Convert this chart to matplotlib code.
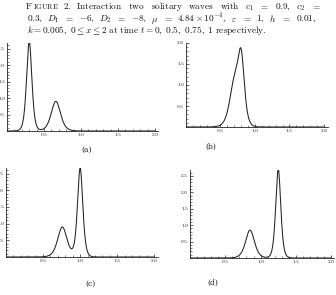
import numpy as np
import matplotlib
matplotlib.use("Agg")
import matplotlib.pyplot as plt
from matplotlib.ticker import MultipleLocator, FixedLocator

plt.rcParams['mathtext.fontset'] = 'cm'
plt.rcParams['font.family'] = ['DejaVu Serif']

W, H = 336, 295

# ---- data: solitary-wave peaks per panel ----
panel_labels = ["(a)", "(b)", "(c)", "(d)"]
peak_centers = [[0.30, 0.66], [0.80, 0.70], [1.00, 0.76], [1.25, 0.85]]
peak_heights = [[2.70, 0.90], [1.50, 1.00], [2.65, 0.90], [2.70, 0.85]]
peak_k       = [[21.0, 12.0], [16.0, 11.0], [21.0, 12.0], [21.0, 12.0]]
y_tops       = [2.67, 2.0, 2.67, 2.68]
x_ticks      = [0.5, 1.0, 1.5, 2.0]
y_ticks      = [[0.5, 1.0, 1.5, 2.0, 2.5], [0.5, 1.0, 1.5, 2.0],
                [0.5, 1.0, 1.5, 2.0, 2.5], [0.5, 1.0, 1.5, 2.0, 2.5]]

# pixel boxes (left=x at 0, right, bottom=baseline, top)
boxes = [(7, 158, 131, 43), (186, 328, 127, 43), (6, 158, 257, 168), (190, 334, 258, 170)]
x_max = [2.04, 2.06, 2.05, 2.04]
label_pos = [(87, 150), (211, 147), (90, 284), (213, 283)]

fig = plt.figure(figsize=(W / 100, H / 100), dpi=100)

x = np.linspace(0, 2, 1601)
for i in range(4):
    l, r, b, t = boxes[i]
    ax = fig.add_axes([l / W, 1 - b / H, (r - l) / W, (b - t) / H])
    u = np.zeros_like(x)
    for c, a, k in zip(peak_centers[i], peak_heights[i], peak_k[i]):
        u += a / np.cosh(k * (x - c)) ** 2
    ax.plot(x, u, color='#222222', lw=0.75)
    ax.set_xlim(0, x_max[i])
    ax.set_ylim(0, y_tops[i])
    for s in ['top', 'right']:
        ax.spines[s].set_visible(False)
    for s in ['left', 'bottom']:
        ax.spines[s].set_linewidth(0.6)
        ax.spines[s].set_color('#222222')
        ax.spines[s].set_position(('data', 0))
    ax.xaxis.set_major_locator(FixedLocator(x_ticks))
    ax.yaxis.set_major_locator(FixedLocator(y_ticks[i]))
    ax.xaxis.set_minor_locator(MultipleLocator(0.1))
    ax.yaxis.set_minor_locator(MultipleLocator(0.1))
    ax.set_xticklabels([f"{v:.1f}" for v in x_ticks])
    ax.set_yticklabels([f"{v:.1f}" for v in y_ticks[i]])
    ax.tick_params(which='major', direction='in', length=2.2, width=0.5,
                   labelsize=3.2, pad=1.5, colors='#222222')
    ax.tick_params(which='minor', direction='in', length=1.1, width=0.4, colors='#222222')
    ax.patch.set_alpha(0)
    fig.text(label_pos[i][0] / W, 1 - label_pos[i][1] / H, panel_labels[i],
             fontsize=5.5, ha='center', va='center', color='#222222')

# ---- caption ----
fs = 6.7
renderer = fig.canvas.get_renderer()

def justify(tokens, y, x0, x1):
    texts = []
    for tok in tokens:
        texts.append(fig.text(0, 1 - y / H, tok, fontsize=fs, ha='left',
                              va='baseline', color='#111111'))
    widths = [tx.get_window_extent(renderer).width for tx in texts]
    gap = ((x1 - x0) - sum(widths)) / (len(texts) - 1)
    pos = x0
    for tx, w in zip(texts, widths):
        tx.set_x(pos / W)
        pos += w + gap

tF = fig.text(25 / W, 1 - 9 / H, r"$\mathrm{F}$", fontsize=fs, va='baseline', color='#111111')
wF = tF.get_window_extent(renderer).width
tI = fig.text((25 + wF) / W, 1 - 9 / H, r"$\mathrm{IGURE}$", fontsize=fs * 0.78,
              va='baseline', color='#111111')
wI = tI.get_window_extent(renderer).width

line1 = [r"$\mathrm{2.}$", r"$\mathrm{Interaction}$", r"$\mathrm{two}$", r"$\mathrm{solitary}$",
         r"$\mathrm{waves}$", r"$\mathrm{with}$", r"$c_1$", r"$=$", r"$0.9,$", r"$c_2$", r"$=$"]
justify(line1, 9, 25 + wF + wI + 4, 321)

line2 = [r"$0.3,$", r"$D_1$", r"$=$", r"$-6,$", r"$D_2$", r"$=$", r"$-8,$", r"$\mu$", r"$=$",
         r"$4.84\times10^{-4},$", r"$\varepsilon$", r"$=$", r"$1,$", r"$h$", r"$=$", r"$0.01,$"]
justify(line2, 21.5, 27, 316)

fig.text(27 / W, 1 - 33 / H,
         r"$k=0.005,\ 0\leq x\leq 2\ \mathrm{at\ time}\ t=0,\ 0.5,\ 0.75,\ 1\ \mathrm{respectively.}$",
         fontsize=fs, va='baseline', color='#111111')

fig.savefig("out.png", dpi=100)
